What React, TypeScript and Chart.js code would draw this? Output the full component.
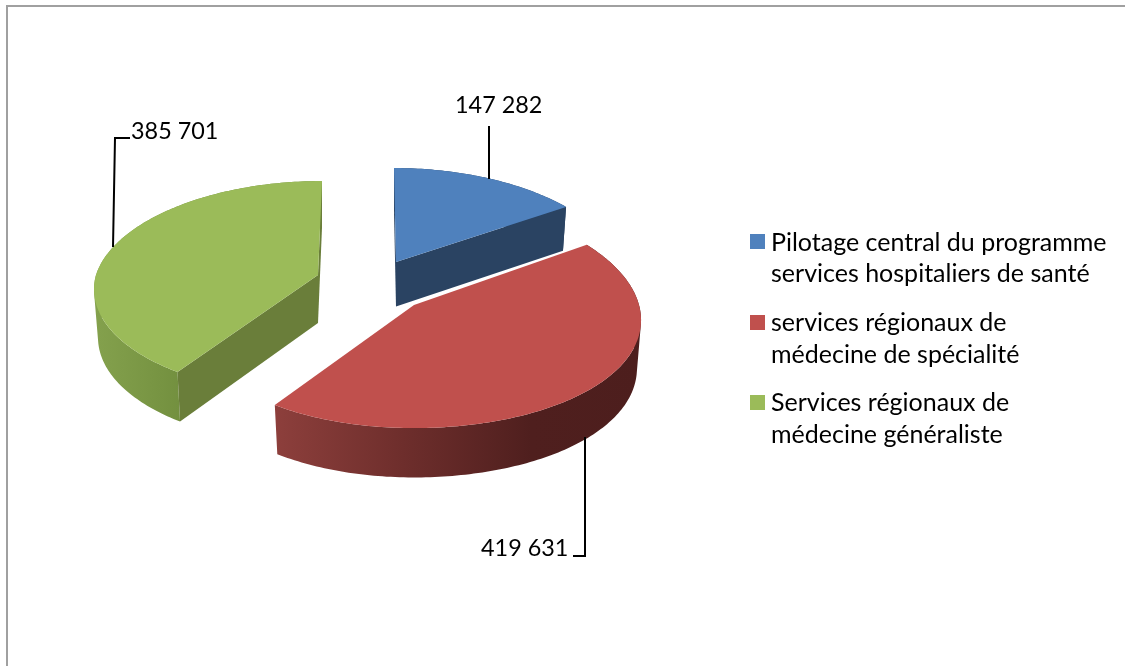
import React, { useEffect, useRef } from "react";
import { Chart, registerables } from "chart.js";

Chart.register(...registerables);

const categories: string[][] = [
  ["Pilotage central du programme", "services hospitaliers de santé"],
  ["services régionaux de", "médecine de spécialité"],
  ["Services régionaux de", "médecine généraliste"],
];
const seriesValues: number[] = [147282, 419631, 385701];
const faceColors: string[] = ["#4f81bd", "#c0504d", "#9bbb59"];
const cutColors: string[] = ["#2a4362", "#6a2c2a", "#6a7e3a"];

const FONT = "Lato, Carlito, sans-serif";
const fmt = (v: number) => String(v).replace(/\B(?=(\d{3})+(?!\d))/g, " ");

// 3D view of each exploded slice: apex, half-axes, perspective and thickness
const KX = 0.134;
const anchors = [
  { x: 396, y: 262, aL: 223, aR: 223, b: 102.8, k: 0.094, depth: 44.5, lean: -2 },
  { x: 414, y: 305, aL: 220, aR: 225, b: 112, k: 0.09, depth: 48, lean: 0 },
  { x: 318, y: 275, aL: 222, aR: 222, b: 105.5, k: 0.1225, depth: 48, lean: 4 },
];
const wallStops: [number, string][][] = [
  [[0, "#2a4362"], [1, "#2a4362"]],
  [[0, "#8d3f3c"], [0.35, "#6e2e2c"], [0.7, "#4f1f1e"], [1, "#4d1e1d"]],
  [[0, "#84a14d"], [1, "#73903f"]],
];
const wallRange = [[396, 567], [275, 641], [94, 180]];
const leaders = [
  { pts: [[489, 179], [489, 126]], text: [455, 113] },
  { pts: [[585, 437], [585, 556], [573, 556]], text: [481, 556] },
  { pts: [[113, 247], [115, 138], [130, 138]], text: [131, 139] },
];
const legendTop = [234, 315, 395];
const legendBase = [[251, 282], [331, 363], [411, 443]];

function project(i: number, ang: number, r: number, z: number) {
  const u = Math.cos(ang) * r;
  const v = Math.sin(ang) * r;
  const an = anchors[i];
  const w = 1 - an.k * v;
  const wx = 1 - KX * v;
  const a = u < 0 ? an.aL : an.aR;
  return [
    an.x + ((a * u) / wx) * (1 - 0.018 * z) + an.lean * Math.max(0, -v),
    an.y + (an.b * v) / w + (z * an.depth) / Math.pow(w, 0.3),
  ];
}

function signedArea(pts: number[][]) {
  let s = 0;
  pts.forEach((p, j) => {
    const q = pts[(j + 1) % pts.length];
    s += p[0] * q[1] - q[0] * p[1];
  });
  return s;
}

const pie3d = {
  id: "pie3d",
  beforeDatasetsDraw(chart: any) {
    const ctx = chart.ctx as CanvasRenderingContext2D;
    const arcs = chart.getDatasetMeta(0).data;
    const order = [0, 2, 1];
    const addPath = (pts: number[][]) => {
      pts.forEach((p, j) => (j ? ctx.lineTo(p[0], p[1]) : ctx.moveTo(p[0], p[1])));
      ctx.closePath();
    };
    const poly = (pts: number[][], fill: any) => {
      ctx.beginPath();
      addPath(pts);
      ctx.fillStyle = fill;
      ctx.fill();
    };
    for (const i of order) {
      const { startAngle: s, endAngle: e } = arcs[i];
      const rimTop: number[][] = [];
      const rimBot: number[][] = [];
      const n = Math.ceil(((e - s) * 180) / Math.PI);
      for (let j = 0; j <= n; j++) {
        const a = s + ((e - s) * j) / n;
        rimTop.push(project(i, a, 1, 0));
        rimBot.push(project(i, a, 1, 1));
      }
      const [x0, x1] = wallRange[i];
      const g = ctx.createLinearGradient(x0, 0, x1, 0);
      wallStops[i].forEach(([o, c]) => g.addColorStop(o, c));
      // one path of like-wound quads, so the wall fills without seams
      ctx.beginPath();
      for (let j = 0; j < n; j++) {
        const quad = [rimTop[j], rimTop[j + 1], rimBot[j + 1], rimBot[j]];
        addPath(signedArea(quad) < 0 ? quad.reverse() : quad);
      }
      ctx.fillStyle = g;
      ctx.fill("nonzero");

      const apex = project(i, 0, 0, 0);
      const apexB = project(i, 0, 0, 1);
      const mid = project(i, (s + e) / 2, 1, 0);
      for (const a of [s, e]) {
        const rt = project(i, a, 1, 0);
        const rb = project(i, a, 1, 1);
        const ex = rt[0] - apex[0];
        const ey = rt[1] - apex[1];
        const c1 = ex * (mid[1] - apex[1]) - ey * (mid[0] - apex[0]);
        const c2 = ex;
        if (c1 * c2 < 0) poly([apex, rt, rb, apexB], cutColors[i]);
      }
      poly([apex, ...rimTop], faceColors[i]);
    }
    return false;
  },
  afterDraw(chart: any) {
    const ctx = chart.ctx as CanvasRenderingContext2D;
    ctx.save();
    // frame
    ctx.fillStyle = "#a0a0a0";
    ctx.fillRect(6, 5, 1119, 2);
    ctx.fillRect(6, 5, 2, 661);
    // leaders and values
    ctx.strokeStyle = "#000";
    ctx.lineWidth = 2;
    ctx.fillStyle = "#000";
    ctx.textBaseline = "alphabetic";
    ctx.textAlign = "left";
    ctx.font = `23.4px ${FONT}`;
    seriesValues.forEach((v, i) => {
      const l = leaders[i];
      ctx.beginPath();
      l.pts.forEach((p, j) => (j ? ctx.lineTo(p[0], p[1]) : ctx.moveTo(p[0], p[1])));
      ctx.stroke();
      ctx.fillText(fmt(v), l.text[0], l.text[1]);
    });
    // legend
    ctx.font = `25px ${FONT}`;
    categories.forEach((lines, i) => {
      ctx.fillStyle = faceColors[i];
      ctx.fillRect(750, legendTop[i], 15, 15);
      ctx.fillStyle = "#000";
      lines.forEach((t, j) => ctx.fillText(t, 771, legendBase[i][j]));
    });
    ctx.restore();
  },
};

export default function App() {
  const ref = useRef<HTMLCanvasElement>(null);
  useEffect(() => {
    const chart = new Chart(ref.current as HTMLCanvasElement, {
      type: "pie",
      data: {
        labels: categories.map((c) => c.join(" ")),
        datasets: [{ data: seriesValues, backgroundColor: faceColors, borderWidth: 0 }],
      },
      options: {
        responsive: false,
        animation: false,
        plugins: { legend: { display: false }, tooltip: { enabled: false } },
      },
      plugins: [pie3d],
    } as any);
    return () => chart.destroy();
  }, []);
  return (
    <div style={{ position: "absolute", left: 0, top: 0, width: 1125, height: 666, background: "#fff" }}>
      <canvas ref={ref} width={1125} height={666} style={{ display: "block" }} />
    </div>
  );
}
